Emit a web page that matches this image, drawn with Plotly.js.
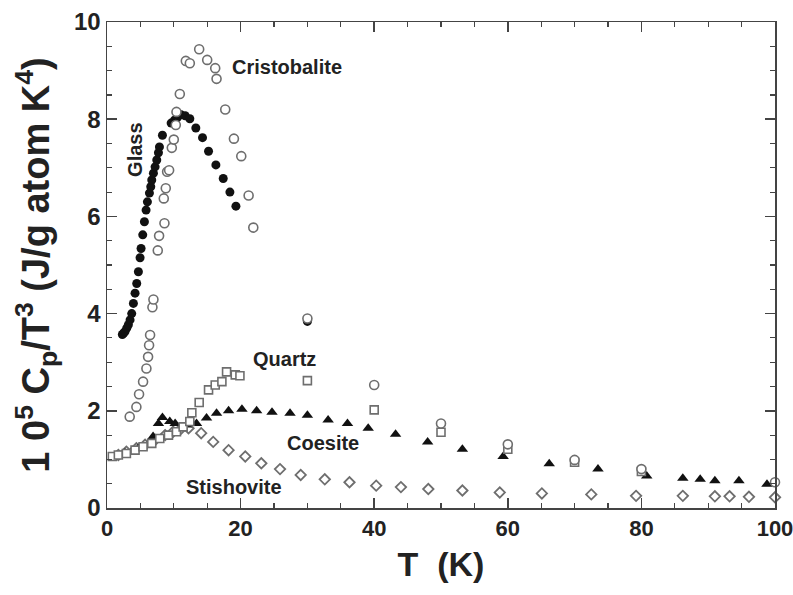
<!DOCTYPE html>
<html>
<head>
<meta charset="utf-8">
<script src="https://cdn.plot.ly/plotly-3.0.1.min.js"></script>
<style>html,body{margin:0;padding:0;background:#fff;}#chart{width:793px;height:595px;}</style>
</head>
<body>
<div id="chart"></div>
<script>
// ---- data (T in K, values are 10^5 Cp/T^3) ----
const glassT = [2.3, 2.5, 2.7, 2.95, 3.2, 3.45, 3.7, 3.95, 4.2, 4.45, 4.7, 4.95, 5.1, 5.35, 5.6, 5.85, 6.05, 6.35, 6.55, 6.7, 6.95, 7.2, 7.45, 7.7, 7.85, 8.3, 9.6, 10.1, 10.5, 11.1, 11.7, 12.4, 13.3, 14.3, 15.2, 16.3, 17.4, 18.4, 19.3, 30];
const glassV = [3.57, 3.60, 3.63, 3.70, 3.77, 3.87, 4.00, 4.21, 4.42, 4.62, 4.86, 5.15, 5.34, 5.62, 5.89, 6.13, 6.30, 6.48, 6.61, 6.75, 6.89, 7.02, 7.16, 7.31, 7.43, 7.67, 7.92, 7.98, 8.03, 8.09, 8.07, 8.01, 7.82, 7.62, 7.34, 7.06, 6.78, 6.50, 6.21, 3.84];

const cristT = [3.4, 4.4, 4.8, 5.4, 5.9, 6.15, 6.3, 6.45, 6.8, 6.95, 7.6, 7.8, 8.6, 8.5, 8.8, 9.0, 9.3, 9.7, 10.0, 10.3, 10.4, 10.9, 11.8, 12.4, 13.8, 15.0, 16.2, 16.4, 17.7, 19.0, 20.1, 21.2, 21.9, 30, 40, 50, 60, 70, 80, 100];
const cristV = [1.88, 2.08, 2.34, 2.60, 2.87, 3.11, 3.35, 3.56, 4.13, 4.29, 5.30, 5.60, 5.86, 6.37, 6.58, 6.92, 6.95, 7.41, 7.58, 7.88, 8.15, 8.52, 9.20, 9.15, 9.44, 9.22, 9.05, 8.83, 8.20, 7.60, 7.24, 6.43, 5.77, 3.90, 2.53, 1.74, 1.31, 0.99, 0.80, 0.53];

const quartzT = [0.8, 1.7, 2.9, 4.2, 5.4, 6.7, 7.9, 9.2, 10.4, 11.4, 12.4, 12.7, 13.8, 15.2, 16.2, 17.2, 17.9, 19.2, 19.9, 30, 40, 50, 60, 70, 80];
const quartzV = [1.06, 1.09, 1.12, 1.19, 1.26, 1.33, 1.43, 1.50, 1.57, 1.67, 1.78, 1.96, 2.17, 2.43, 2.53, 2.60, 2.80, 2.74, 2.72, 2.62, 2.02, 1.56, 1.21, 0.94, 0.75];

const coesT = [1.5, 2.7, 3.7, 4.7, 6.2, 6.9, 7.7, 8.3, 9.4, 10.2, 11.9, 13.4, 14.9, 16.4, 18.2, 20.2, 22.4, 24.7, 27.4, 30.0, 33.1, 36.0, 39.1, 43.2, 48.0, 53.2, 59.3, 66.2, 73.5, 80.8, 86.2, 88.8, 91.0, 94.6, 98.8];
const coesV = [1.08, 1.13, 1.16, 1.23, 1.30, 1.47, 1.74, 1.86, 1.78, 1.74, 1.71, 1.74, 1.85, 1.95, 2.00, 2.03, 2.00, 1.97, 1.95, 1.91, 1.81, 1.74, 1.64, 1.52, 1.36, 1.21, 1.06, 0.91, 0.80, 0.66, 0.61, 0.59, 0.56, 0.56, 0.49];

const stishT = [1.7, 2.9, 4.4, 5.7, 7.2, 8.7, 9.9, 11.0, 12.2, 14.1, 15.9, 18.2, 20.7, 23.1, 25.9, 29.0, 32.6, 36.3, 40.3, 44.0, 48.1, 53.2, 58.8, 65.1, 72.5, 79.2, 86.2, 91.0, 93.2, 96.1, 100];
const stishV = [1.09, 1.16, 1.23, 1.30, 1.40, 1.50, 1.57, 1.62, 1.64, 1.54, 1.36, 1.19, 1.06, 0.92, 0.80, 0.68, 0.59, 0.53, 0.46, 0.43, 0.39, 0.36, 0.32, 0.30, 0.28, 0.25, 0.25, 0.24, 0.24, 0.23, 0.22];

const xTicks = [0, 20, 40, 60, 80, 100];
const yTicks = [0, 2, 4, 6, 8, 10];

const labelText = ['Cristobalite', 'Glass', 'Quartz', 'Coesite', 'Stishovite'];
const labelX = [27.0, 4.2, 26.6, 32.3, 19.0];
const labelY = [9.07, 7.37, 3.07, 1.34, 0.43];
const labelAngle = [0, -90, 0, 0, 0];

// ---- styling ----
const FONT = 'Liberation Sans, Arial, Helvetica, sans-serif';
const INK = '#222222';
const GREY = '#6e6e6e';

const common = {type: 'scatter', mode: 'markers', cliponaxis: false, hoverinfo: 'x+y'};
const traces = [
  Object.assign({}, common, {name: 'Stishovite', x: stishT, y: stishV,
    marker: {symbol: 'diamond', size: 8, color: '#ffffff', line: {color: GREY, width: 1.8}}}),
  Object.assign({}, common, {name: 'Coesite', x: coesT, y: coesV,
    marker: {symbol: 'triangle-up', size: 10, color: '#111111', line: {width: 0}}}),
  Object.assign({}, common, {name: 'Quartz', x: quartzT, y: quartzV,
    marker: {symbol: 'square', size: 8, color: '#ffffff', line: {color: GREY, width: 1.6}}}),
  Object.assign({}, common, {name: 'Glass', x: glassT, y: glassV,
    marker: {symbol: 'circle', size: 9, color: '#111111', line: {width: 0}}}),
  Object.assign({}, common, {name: 'Cristobalite', x: cristT, y: cristV,
    marker: {symbol: 'circle', size: 9, color: '#ffffff', line: {color: GREY, width: 1.6}}})
];

const annotations = labelText.map((t, i) => ({
  x: labelX[i], y: labelY[i], xref: 'x', yref: 'y', text: t, showarrow: false,
  textangle: labelAngle[i], xanchor: 'center', yanchor: 'middle',
  font: {family: FONT, size: 20, color: INK, weight: 'bold'}
}));

const axisBase = {
  showgrid: false, zeroline: false, showline: true, linecolor: '#444', linewidth: 1.5,
  mirror: 'ticks', ticks: 'inside', ticklen: 10, tickwidth: 1.5, tickcolor: '#444',
  tickmode: 'array', ticklabeloverflow: 'allow'
};

const layout = {
  width: 793, height: 595,
  margin: {l: 107, r: 18, t: 22, b: 87},
  paper_bgcolor: '#ffffff', plot_bgcolor: '#ffffff',
  showlegend: false,
  xaxis: Object.assign({}, axisBase, {
    range: [0, 100], tickvals: xTicks, ticktext: xTicks.map(String),
    tickfont: {family: FONT, size: 22, color: INK, weight: 'bold'},
    minor: {tickvals: [5,10,15,25,30,35,45,50,55,65,70,75,85,90,95], ticks: 'inside', ticklen: 5, tickwidth: 1.2, tickcolor: '#444'},
    title: {text: 'T  (K)', font: {family: FONT, size: 34, color: INK, weight: 'bold'}, standoff: 12}
  }),
  yaxis: Object.assign({}, axisBase, {
    range: [0, 10], tickvals: yTicks, ticktext: yTicks.map(String),
    tickfont: {family: FONT, size: 24, color: INK, weight: 'bold'},
    minor: {dtick: 0.5, ticks: 'inside', ticklen: 5, tickwidth: 1.2, tickcolor: '#444'},
    title: {text: '1 0<sup>5</sup> C<sub>p</sub>/T<sup>3</sup> (J/g atom K<sup>4</sup>)', font: {family: FONT, size: 38, color: INK, weight: 'bold'}, standoff: 12}
  }),
  annotations: annotations
};

Plotly.newPlot('chart', traces, layout, {staticPlot: true, displayModeBar: false});
</script>
</body>
</html>
